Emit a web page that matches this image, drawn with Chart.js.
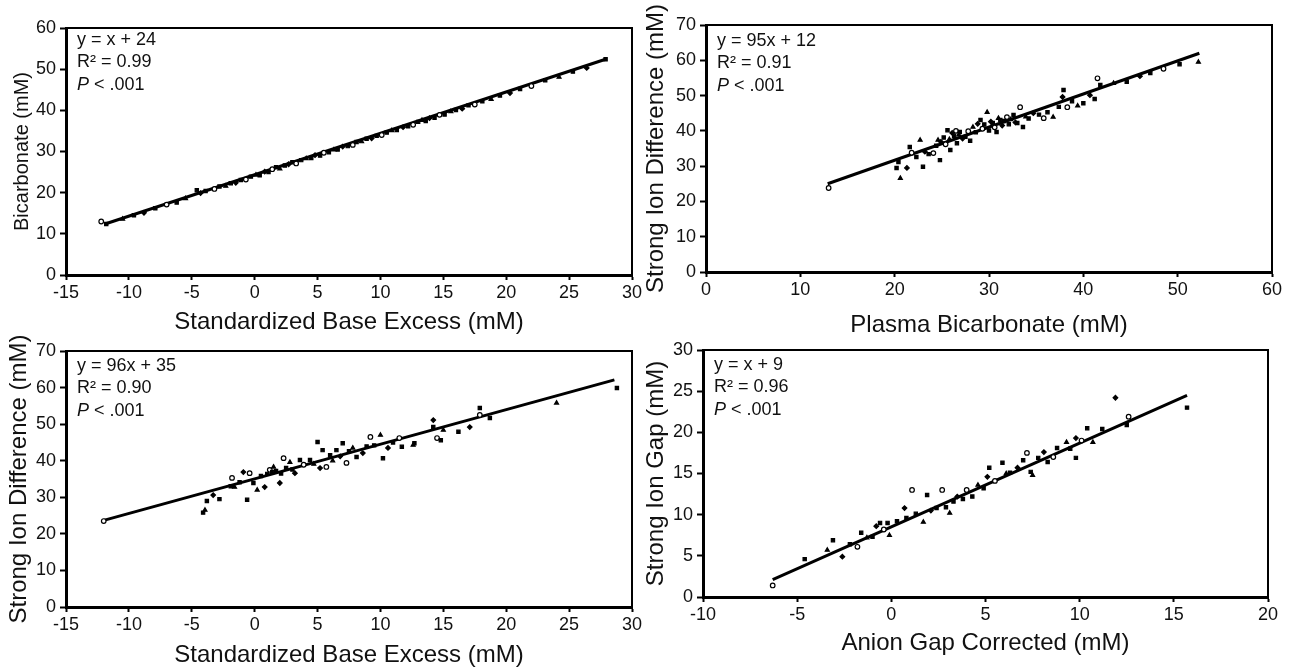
<!DOCTYPE html>
<html>
<head>
<meta charset="utf-8">
<script src="https://cdn.jsdelivr.net/npm/chart.js@4"></script>
<style>
  body { margin: 0; background: #fff; width: 1294px; height: 668px; position: relative; overflow: hidden; }
  .p { position: absolute; }
</style>
</head>
<body>
<div class="p" style="left:0;top:0;width:647px;height:334px"><canvas id="c1"></canvas></div>
<div class="p" style="left:636px;top:0;width:658px;height:340px"><canvas id="c2"></canvas></div>
<div class="p" style="left:0;top:334px;width:647px;height:334px"><canvas id="c3"></canvas></div>
<div class="p" style="left:636px;top:334px;width:658px;height:334px"><canvas id="c4"></canvas></div>
<script>
// panel 1: bicarbonate vs standardized base excess
let sbe1 = [-12.2, -11.8, -10.5, -9.6, -8.8, -7.9, -7.0, -6.2, -5.5, -4.6, -4.3, -3.9, -3.2, -2.8, -2.3, -1.9, -1.5, -1.1, -0.7, -0.3,
  0.1, 0.4, 0.8, 1.1, 1.4, 1.7, 2.0, 2.4, 2.7, 3.0, 3.3, 3.7, 4.1, 4.5, 4.8, 5.2, 5.5, 5.9, 6.3, 6.6,
  7.0, 7.4, 7.8, 8.1, 8.5, 8.9, 9.3, 9.7, 10.1, 10.5, 10.9, 11.3, 11.8, 12.2, 12.6, 13.0, 13.3, 13.6, 13.9, 14.3,
  14.7, 15.1, 15.6, 16.0, 16.5, 17.0, 17.5, 18.1, 18.8, 19.5, 20.3, 21.1, 22.0, 23.1, 24.2, 25.3, 26.4, 27.9]
let bic1 = [13.0, 12.4, 13.6, 14.5, 15.1, 16.2, 17.1, 17.6, 18.6, 20.6, 19.9, 20.4, 20.9, 21.5, 21.6, 22.3, 22.4, 23.1, 23.2, 23.9,
  24.3, 24.2, 25.1, 25.0, 25.7, 26.2, 25.8, 26.6, 26.9, 27.4, 27.1, 27.9, 28.3, 28.4, 29.1, 29.0, 29.7, 29.8, 30.4, 30.5,
  31.2, 31.3, 31.6, 32.3, 32.4, 33.1, 33.2, 33.8, 34.0, 34.6, 35.1, 35.2, 35.9, 36.1, 36.5, 37.2, 37.6, 37.4, 38.1, 38.2,
  38.9, 39.0, 39.7, 40.1, 40.4, 41.2, 41.4, 42.2, 42.7, 43.6, 44.2, 45.2, 45.9, 47.3, 48.1, 49.4, 50.3, 52.4]
let fitX1 = [-11.9, 27.9]
let fitY1 = [12.4, 52.4]
let stats1 = ['y = x + 24', 'R² = 0.99', 'P < .001']

// panel 2: strong ion difference vs plasma bicarbonate
let bic2 = [13.0, 20.2, 20.6, 20.4, 21.3, 21.6, 21.8, 22.3, 22.7, 23.0, 23.2, 23.6, 24.1, 24.4, 24.6, 24.8, 24.9, 25.2, 25.4, 25.6,
  25.8, 25.9, 26.1, 26.3, 26.5, 26.6, 26.8, 26.9, 27.2, 27.5, 27.8, 28.0, 28.3, 28.6, 28.8, 29.1, 29.3, 29.5, 29.8, 30.0,
  30.2, 30.4, 30.6, 30.8, 31.0, 31.2, 31.4, 31.6, 31.9, 32.1, 32.3, 32.6, 32.8, 33.0, 33.3, 33.6, 33.9, 34.2, 34.7, 35.3,
  35.8, 36.2, 36.8, 37.4, 37.8, 37.9, 38.3, 38.8, 39.4, 40.0, 40.7, 41.2, 41.5, 41.8, 43.2, 44.6, 46.0, 47.1, 48.5, 50.2, 52.2]
let sid2 = [23.8, 29.5, 26.6, 31.2, 29.5, 35.4, 33.8, 32.6, 37.4, 29.8, 34.1, 33.4, 33.7, 35.8, 37.4, 31.7, 36.9, 38.1, 36.2, 40.2,
  37.6, 34.6, 39.4, 38.6, 40.0, 36.5, 38.9, 39.7, 37.8, 38.3, 39.9, 37.2, 41.1, 39.6, 42.0, 43.1, 40.6, 41.8, 45.3, 40.1,
  42.6, 42.2, 41.0, 39.7, 43.6, 43.1, 41.5, 42.8, 43.9, 41.9, 43.2, 44.5, 42.4, 42.2, 46.7, 41.1, 44.0, 43.5, 45.0, 44.6,
  43.6, 45.3, 43.9, 46.8, 49.6, 51.6, 46.7, 48.4, 47.1, 47.8, 50.1, 49.0, 54.9, 53.0, 53.5, 53.9, 55.5, 56.4, 57.6, 58.9, 59.5]
let fitX2 = [12.9, 52.3]
let fitY2 = [25.0, 62.0]
let stats2 = ['y = 95x + 12', 'R² = 0.91', 'P < .001']

// panel 3: strong ion difference vs standardized base excess
let sbe3 = [-12.0, -4.1, -3.95, -3.8, -3.3, -2.8, -1.8, -1.9, -1.6, -1.2, -0.9, -0.6, -0.4, -0.1, 0.2, 0.5, 0.8, 1.0, 1.2, 1.4,
  1.5, 1.7, 2.0, 2.1, 2.3, 2.5, 2.8, 3.0, 3.2, 3.6, 3.9, 4.4, 4.7, 5.0, 5.2, 5.4, 5.7, 6.0, 6.2, 6.5,
  6.8, 7.0, 7.3, 7.5, 7.8, 8.1, 8.6, 8.9, 9.2, 9.5, 10.0, 10.2, 10.6, 11.0, 11.5, 11.7, 12.6, 12.7, 14.2, 14.2,
  14.5, 14.8, 15.0, 16.2, 17.1, 17.9, 17.9, 18.7, 24.0, 28.8]
let sid3 = [23.5, 25.8, 26.5, 29.0, 30.6, 29.5, 35.3, 33.0, 32.8, 34.1, 36.9, 29.3, 36.6, 33.9, 32.0, 35.8, 32.8, 36.4, 37.5, 36.9,
  38.3, 37.2, 33.9, 36.5, 40.7, 38.0, 39.6, 37.6, 36.6, 40.2, 38.9, 40.2, 39.1, 45.1, 38.0, 42.9, 38.3, 41.5, 40.0, 42.9,
  41.2, 44.8, 39.4, 42.6, 43.5, 41.0, 42.1, 43.9, 46.5, 44.2, 47.0, 40.7, 43.5, 45.0, 46.2, 43.8, 44.3, 44.8, 51.1, 49.2,
  46.2, 45.6, 48.4, 47.9, 49.2, 54.4, 52.5, 51.7, 55.8, 59.9]
let fitX3 = [-12.0, 28.6]
let fitY3 = [23.7, 62.1]
let stats3 = ['y = 96x + 35', 'R² = 0.90', 'P < .001']

// panel 4: strong ion gap vs corrected anion gap
let agc4 = [-6.3, -4.6, -3.4, -3.1, -2.6, -2.2, -1.8, -1.6, -1.3, -1.0, -0.8, -0.6, -0.4, -0.2, -0.1, 0.3, 0.7, 0.8, 1.1, 1.3,
  1.7, 1.9, 2.1, 2.4, 2.7, 2.9, 3.1, 3.3, 3.5, 3.8, 4.0, 4.3, 4.6, 4.9, 5.1, 5.2, 5.5, 5.9, 6.1, 6.3,
  6.7, 7.0, 7.2, 7.4, 7.5, 7.8, 8.1, 8.3, 8.6, 8.8, 9.3, 9.5, 9.8, 9.8, 10.1, 10.4, 10.7, 11.2, 11.9, 12.5, 12.6, 15.7]
let sig4 = [1.4, 4.6, 5.7, 6.9, 4.9, 6.4, 6.1, 7.8, 7.2, 7.3, 8.6, 9.0, 8.2, 9.0, 7.5, 9.2, 10.8, 9.6, 13.0, 10.1,
  9.1, 12.4, 10.5, 10.8, 13.0, 10.9, 10.2, 11.6, 12.2, 11.9, 13.0, 12.2, 13.6, 13.2, 14.6, 15.7, 14.1, 16.3, 15.0, 15.1,
  15.7, 16.6, 17.5, 15.2, 14.8, 16.9, 17.6, 16.4, 17.0, 18.1, 18.8, 18.0, 19.3, 16.9, 19.0, 20.5, 18.8, 20.4, 24.2, 20.9, 21.9, 23.0]
let fitX4 = [-6.3, 15.7]
let fitY4 = [2.1, 24.5]
let stats4 = ['y = x + 9', 'R² = 0.96', 'P < .001']

let marks = ['circle', 'rect', 'triangle', 'rect', 'rectRot', 'rect']

Chart.defaults.font.family = "'Liberation Sans', Arial, sans-serif"
Chart.defaults.color = '#111'

// top and right lines of the plot box
const frame = {
  id: 'frame',
  afterDraw(chart) {
    const a = chart.chartArea, ctx = chart.ctx
    ctx.save()
    ctx.strokeStyle = '#000'
    ctx.lineWidth = 2
    ctx.beginPath()
    ctx.moveTo(a.left, a.top)
    ctx.lineTo(a.right, a.top)
    ctx.lineTo(a.right, a.bottom)
    ctx.stroke()
    ctx.restore()
  }
}

// regression text in the top left corner
const stats = {
  id: 'stats',
  afterDraw(chart, args, opts) {
    const a = chart.chartArea, ctx = chart.ctx
    ctx.save()
    ctx.fillStyle = '#111'
    ctx.textBaseline = 'middle'
    opts.lines.forEach(function (t, i) {
      let x = a.left + 11, y = a.top + opts.top + i * 22.5
      if (t.startsWith('P ')) {
        ctx.font = "italic 18px 'Liberation Sans', Arial, sans-serif"
        ctx.fillText('P', x, y)
        x += ctx.measureText('P').width
        t = t.slice(1)
      }
      ctx.font = "18px 'Liberation Sans', Arial, sans-serif"
      ctx.fillText(t, x, y)
    })
    ctx.restore()
  }
}

function panel(id, o) {
  let pts = o.xs.map((x, i) => ({ x: x, y: o.ys[i] }))
  let fit = o.fitX.map((x, i) => ({ x: x, y: o.fitY[i] }))
  return new Chart(document.getElementById(id), {
    type: 'scatter',
    data: {
      datasets: [{
        data: pts,
        pointStyle: c => marks[c.dataIndex % marks.length],
        pointRadius: 2.3,
        borderWidth: 1.2,
        borderColor: '#000',
        backgroundColor: c => marks[c.dataIndex % marks.length] === 'circle' ? '#fff' : '#000',
      }, {
        data: fit,
        showLine: true,
        borderColor: '#000',
        borderWidth: 3,
        pointRadius: 0,
      }]
    },
    options: {
      responsive: true,
      maintainAspectRatio: false,
      animation: false,
      layout: { padding: { top: o.top, right: o.right, left: 0, bottom: 0 } },
      plugins: {
        legend: { display: false },
        tooltip: { enabled: false },
        stats: { lines: o.stats, top: o.statsTop },
      },
      scales: {
        x: {
          type: 'linear', min: o.xMin, max: o.xMax,
          ticks: { stepSize: o.xStep, padding: 2, maxRotation: 0, autoSkip: false, font: { size: 18 } },
          grid: { drawOnChartArea: false, tickLength: 5, tickColor: '#000', tickWidth: 2 },
          border: { color: '#000', width: 3 },
          title: { display: true, text: o.xTitle, color: '#111', font: { size: 24, lineHeight: 1 }, padding: { top: 0, bottom: o.xTitlePad } },
          afterFit: s => { s.height = o.xH },
        },
        y: {
          type: 'linear', min: o.yMin, max: o.yMax,
          ticks: { stepSize: o.yStep, padding: 4, font: { size: 18 } },
          grid: { drawOnChartArea: false, tickLength: 6, tickColor: '#000', tickWidth: 2 },
          border: { color: '#000', width: 3 },
          title: { display: true, text: o.yTitle, color: '#111', font: { size: o.yTitleSize, lineHeight: 1 }, padding: { top: o.yTitlePad, bottom: 0 } },
          afterFit: s => { s.width = o.yW },
        }
      }
    },
    plugins: [frame, stats]
  })
}

panel('c1', {
  xs: sbe1, ys: bic1, fitX: fitX1, fitY: fitY1, stats: stats1, statsTop: 12,
  xMin: -15, xMax: 30, xStep: 5, yMin: 0, yMax: 60, yStep: 10,
  xTitle: 'Standardized Base Excess (mM)', yTitle: 'Bicarbonate (mM)',
  top: 28, right: 15, xH: 59, yW: 66, xTitlePad: 0, yTitlePad: 12, yTitleSize: 20,
})
panel('c2', {
  xs: bic2, ys: sid2, fitX: fitX2, fitY: fitY2, stats: stats2, statsTop: 16,
  xMin: 0, xMax: 60, xStep: 10, yMin: 0, yMax: 70, yStep: 10,
  xTitle: 'Plasma Bicarbonate (mM)', yTitle: 'Strong Ion Difference (mM)',
  top: 25, right: 22, xH: 68, yW: 70, xTitlePad: 3, yTitlePad: 8, yTitleSize: 24,
})
panel('c3', {
  xs: sbe3, ys: sid3, fitX: fitX3, fitY: fitY3, stats: stats3, statsTop: 15,
  xMin: -15, xMax: 30, xStep: 5, yMin: 0, yMax: 70, yStep: 10,
  xTitle: 'Standardized Base Excess (mM)', yTitle: 'Strong Ion Difference (mM)',
  top: 17, right: 15, xH: 61, yW: 66, xTitlePad: 1, yTitlePad: 7, yTitleSize: 24,
})
panel('c4', {
  xs: agc4, ys: sig4, fitX: fitX4, fitY: fitY4, stats: stats4, statsTop: 15,
  xMin: -10, xMax: 20, xStep: 5, yMin: 0, yMax: 30, yStep: 5,
  xTitle: 'Anion Gap Corrected (mM)', yTitle: 'Strong Ion Gap (mM)',
  top: 16, right: 26, xH: 71, yW: 67, xTitlePad: 13, yTitlePad: 8, yTitleSize: 24,
})
</script>
</body>
</html>
